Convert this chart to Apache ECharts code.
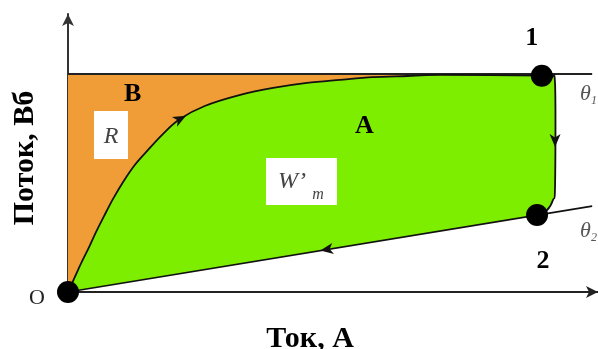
<!DOCTYPE html>
<html><head><meta charset="utf-8">
<script src="https://cdn.jsdelivr.net/npm/echarts@6/dist/echarts.min.js"></script>
<style>html,body{margin:0;padding:0;background:#fff}#c{width:598px;height:349px}</style>
</head><body><div id="c"></div>
<script>
// Magnetisation curve O -> saturation (current, flux)
const curveI   = [0, 0.13, 0.26, 0.40, 0.53, 0.68, 0.85, 1.04, 1.26, 1.51, 1.79, 2.11, 2.58, 3.25, 3.87, 4.51, 5.13, 5.75, 6.40, 7.02];
const curvePhi = [0, 0.54, 1.08, 1.62, 2.16, 2.73, 3.35, 3.96, 4.57, 5.11, 5.68, 6.22, 6.69, 7.09, 7.34, 7.52, 7.63, 7.73, 7.77, 7.81];
const phiSat = 7.84;            // saturation line (θ1)
const satLineEndI = 9.89;
const point1 = [8.94, 7.78];
// drop from point 1 to point 2
const dropI   = [9.11, 9.19, 9.19, 9.15, 9.04];
const dropPhi = [7.70, 7.48, 3.85, 3.31, 2.95];
const point2 = [8.85, 2.77];
const lowerLineEnd = [9.89, 3.09]; // θ2 line end
const origin = [0, 0];
// arrows: position and point they head towards
const arrowAt  = [[2.11, 6.22], [9.19, 5.47], [4.89, 1.53]];
const arrowDir = [[2.58, 6.69], [9.19, 4.80], [0, 0]];
const pointNames = ['O', '1', '2'];

const chart = echarts.init(document.getElementById('c'), null, {renderer: 'canvas'});
const curvePts = curveI.map((x, i) => [x, curvePhi[i]]).concat([point1]);
const dropPts = [point1].concat(dropI.map((x, i) => [x, dropPhi[i]]), [point2]);

// Catmull-Rom spline through screen points -> bezier path segments
function splinePath(P, withMove) {
  const f = v => v.toFixed(2);
  let d = (withMove ? 'M' : 'L') + f(P[0][0]) + ',' + f(P[0][1]);
  for (let i = 0; i < P.length - 1; i++) {
    const p0 = P[Math.max(i - 1, 0)], p1 = P[i], p2 = P[i + 1], p3 = P[Math.min(i + 2, P.length - 1)];
    const c1 = [p1[0] + (p2[0] - p0[0]) / 6, p1[1] + (p2[1] - p0[1]) / 6];
    const c2 = [p2[0] - (p3[0] - p1[0]) / 6, p2[1] - (p3[1] - p1[1]) / 6];
    d += 'C' + f(c1[0]) + ',' + f(c1[1]) + ' ' + f(c2[0]) + ',' + f(c2[1]) + ' ' + f(p2[0]) + ',' + f(p2[1]);
  }
  return d;
}

function renderShapes(params, api) {
  const c = p => api.coord(p);
  const cs = curvePts.map(c), ds = dropPts.map(c);
  const o = c(origin);
  const children = [];
  const topL = c([0, phiSat]), topR = c([curveI[curveI.length - 1], phiSat]);
  children.push({type: 'path', shape: {pathData: splinePath(cs, true) + 'L' + topR[0] + ',' + topR[1] + 'L' + topL[0] + ',' + topL[1] + 'Z'}, style: {fill: '#F09D37'}});
  children.push({type: 'path', shape: {pathData: splinePath(cs, true) + splinePath(ds, false) + 'L' + o[0] + ',' + o[1] + 'Z'}, style: {fill: '#7EEE00'}});
  const line = (pts, w, col) => children.push({type: 'polyline', shape: {points: pts.map(c)}, style: {stroke: col, lineWidth: w, fill: null}});
  line([[0, phiSat], [satLineEndI, phiSat]], 2, '#222');
  line([origin, lowerLineEnd], 1.6, '#111');
  children.push({type: 'path', shape: {pathData: splinePath(cs, true)}, style: {stroke: '#111', lineWidth: 1.8, fill: null}});
  children.push({type: 'path', shape: {pathData: splinePath(ds, true)}, style: {stroke: '#111', lineWidth: 1.8, fill: null}});
  arrowAt.forEach((a, i) => {
    const p = c(a), q = c(arrowDir[i]);
    let dx = q[0] - p[0], dy = q[1] - p[1];
    const L = Math.hypot(dx, dy); dx /= L; dy /= L;
    const px = -dy, py = dx;
    const tip = [p[0] + dx * 7, p[1] + dy * 7];
    const l = [p[0] - dx * 6 + px * 5.5, p[1] - dy * 6 + py * 5.5];
    const r = [p[0] - dx * 6 - px * 5.5, p[1] - dy * 6 - py * 5.5];
    const n = [p[0] - dx * 2.5, p[1] - dy * 2.5];
    children.push({type: 'polygon', shape: {points: [tip, l, n, r]}, style: {fill: '#111'}});
  });
  return {type: 'group', children};
}

const serif = 'Liberation Serif';
chart.setOption({
  animation: false,
  grid: {left: 68, top: 14, width: 530, height: 278, containLabel: false, outerBoundsMode: 'none'},
  xAxis: {
    type: 'value', min: 0, max: 10,
    axisLine: {show: true, onZero: false, symbol: ['none', 'arrow'], symbolSize: [9, 12], lineStyle: {color: '#222', width: 2}},
    axisTick: {show: false}, axisLabel: {show: false}, splitLine: {show: false},
    name: 'Ток, А', nameLocation: 'middle', nameGap: 32,
    nameTextStyle: {fontFamily: serif, fontWeight: 'bold', fontSize: 30, color: '#000', padding: [0, 46, 0, 0]}
  },
  yAxis: {
    type: 'value', min: 0, max: 10,
    axisLine: {show: true, onZero: false, symbol: ['none', 'arrow'], symbolSize: [9, 12], lineStyle: {color: '#333', width: 2}},
    axisTick: {show: false}, axisLabel: {show: false}, splitLine: {show: false},
    name: 'Поток, Вб', nameLocation: 'middle', nameGap: 28, nameRotate: 90,
    nameTextStyle: {fontFamily: serif, fontWeight: 'bold', fontSize: 30, color: '#000', padding: [0, 10, 0, 0]}
  },
  series: [
    {type: 'custom', data: [[0, 0]], renderItem: renderShapes, clip: false, silent: true},
    {type: 'scatter', symbolSize: 22, itemStyle: {color: '#000', opacity: 1}, z: 5,
     data: [
       {value: origin, label: {show: true, formatter: pointNames[0], position: 'left', distance: 12, offset: [0, 6], fontFamily: serif, fontSize: 22, color: '#222'}},
       {value: point1, label: {show: true, formatter: pointNames[1], position: 'top', distance: 13, offset: [-10, 0], fontFamily: serif, fontWeight: 'bold', fontSize: 26, color: '#000'}},
       {value: point2, label: {show: true, formatter: pointNames[2], position: 'bottom', distance: 22, offset: [6, 0], fontFamily: serif, fontWeight: 'bold', fontSize: 26, color: '#000'}}
     ]}
  ],
  graphic: [
    {type: 'text', z: 100, left: 124, top: 81, style: {text: 'B', font: 'bold 26px "Liberation Serif"', fill: '#000'}},
    {type: 'text', z: 100, left: 355, top: 113, style: {text: 'A', font: 'bold 26px "Liberation Serif"', fill: '#000'}},
    {type: 'rect', z: 100, shape: {x: 94, y: 111, width: 34, height: 48}, style: {fill: '#fff'}},
    {type: 'text', z: 101, x: 111, y: 137, style: {text: 'R', font: 'italic 24px "Liberation Serif"', fill: '#444', align: 'center', verticalAlign: 'middle'}},
    {type: 'rect', z: 100, shape: {x: 266, y: 158, width: 71, height: 47}, style: {fill: '#fff'}},
    {type: 'text', z: 101, x: 292, y: 182, style: {text: 'W’', font: 'italic 24px "Liberation Serif"', fill: '#444', align: 'center', verticalAlign: 'middle'}},
    {type: 'text', z: 101, x: 318, y: 195, style: {text: 'm', font: 'italic 16px "Liberation Serif"', fill: '#444', align: 'center', verticalAlign: 'middle'}},
    {type: 'text', z: 100, x: 580, y: 94, style: {text: 'θ', font: 'italic 22px "Liberation Serif"', fill: '#555', align: 'left', verticalAlign: 'middle'}},
    {type: 'text', z: 100, x: 591, y: 101, style: {text: '1', font: 'italic 12px "Liberation Serif"', fill: '#555', align: 'left', verticalAlign: 'middle'}},
    {type: 'text', z: 100, x: 580, y: 231, style: {text: 'θ', font: 'italic 22px "Liberation Serif"', fill: '#555', align: 'left', verticalAlign: 'middle'}},
    {type: 'text', z: 100, x: 591, y: 238, style: {text: '2', font: 'italic 12px "Liberation Serif"', fill: '#555', align: 'left', verticalAlign: 'middle'}}
  ]
});
</script></body></html>
